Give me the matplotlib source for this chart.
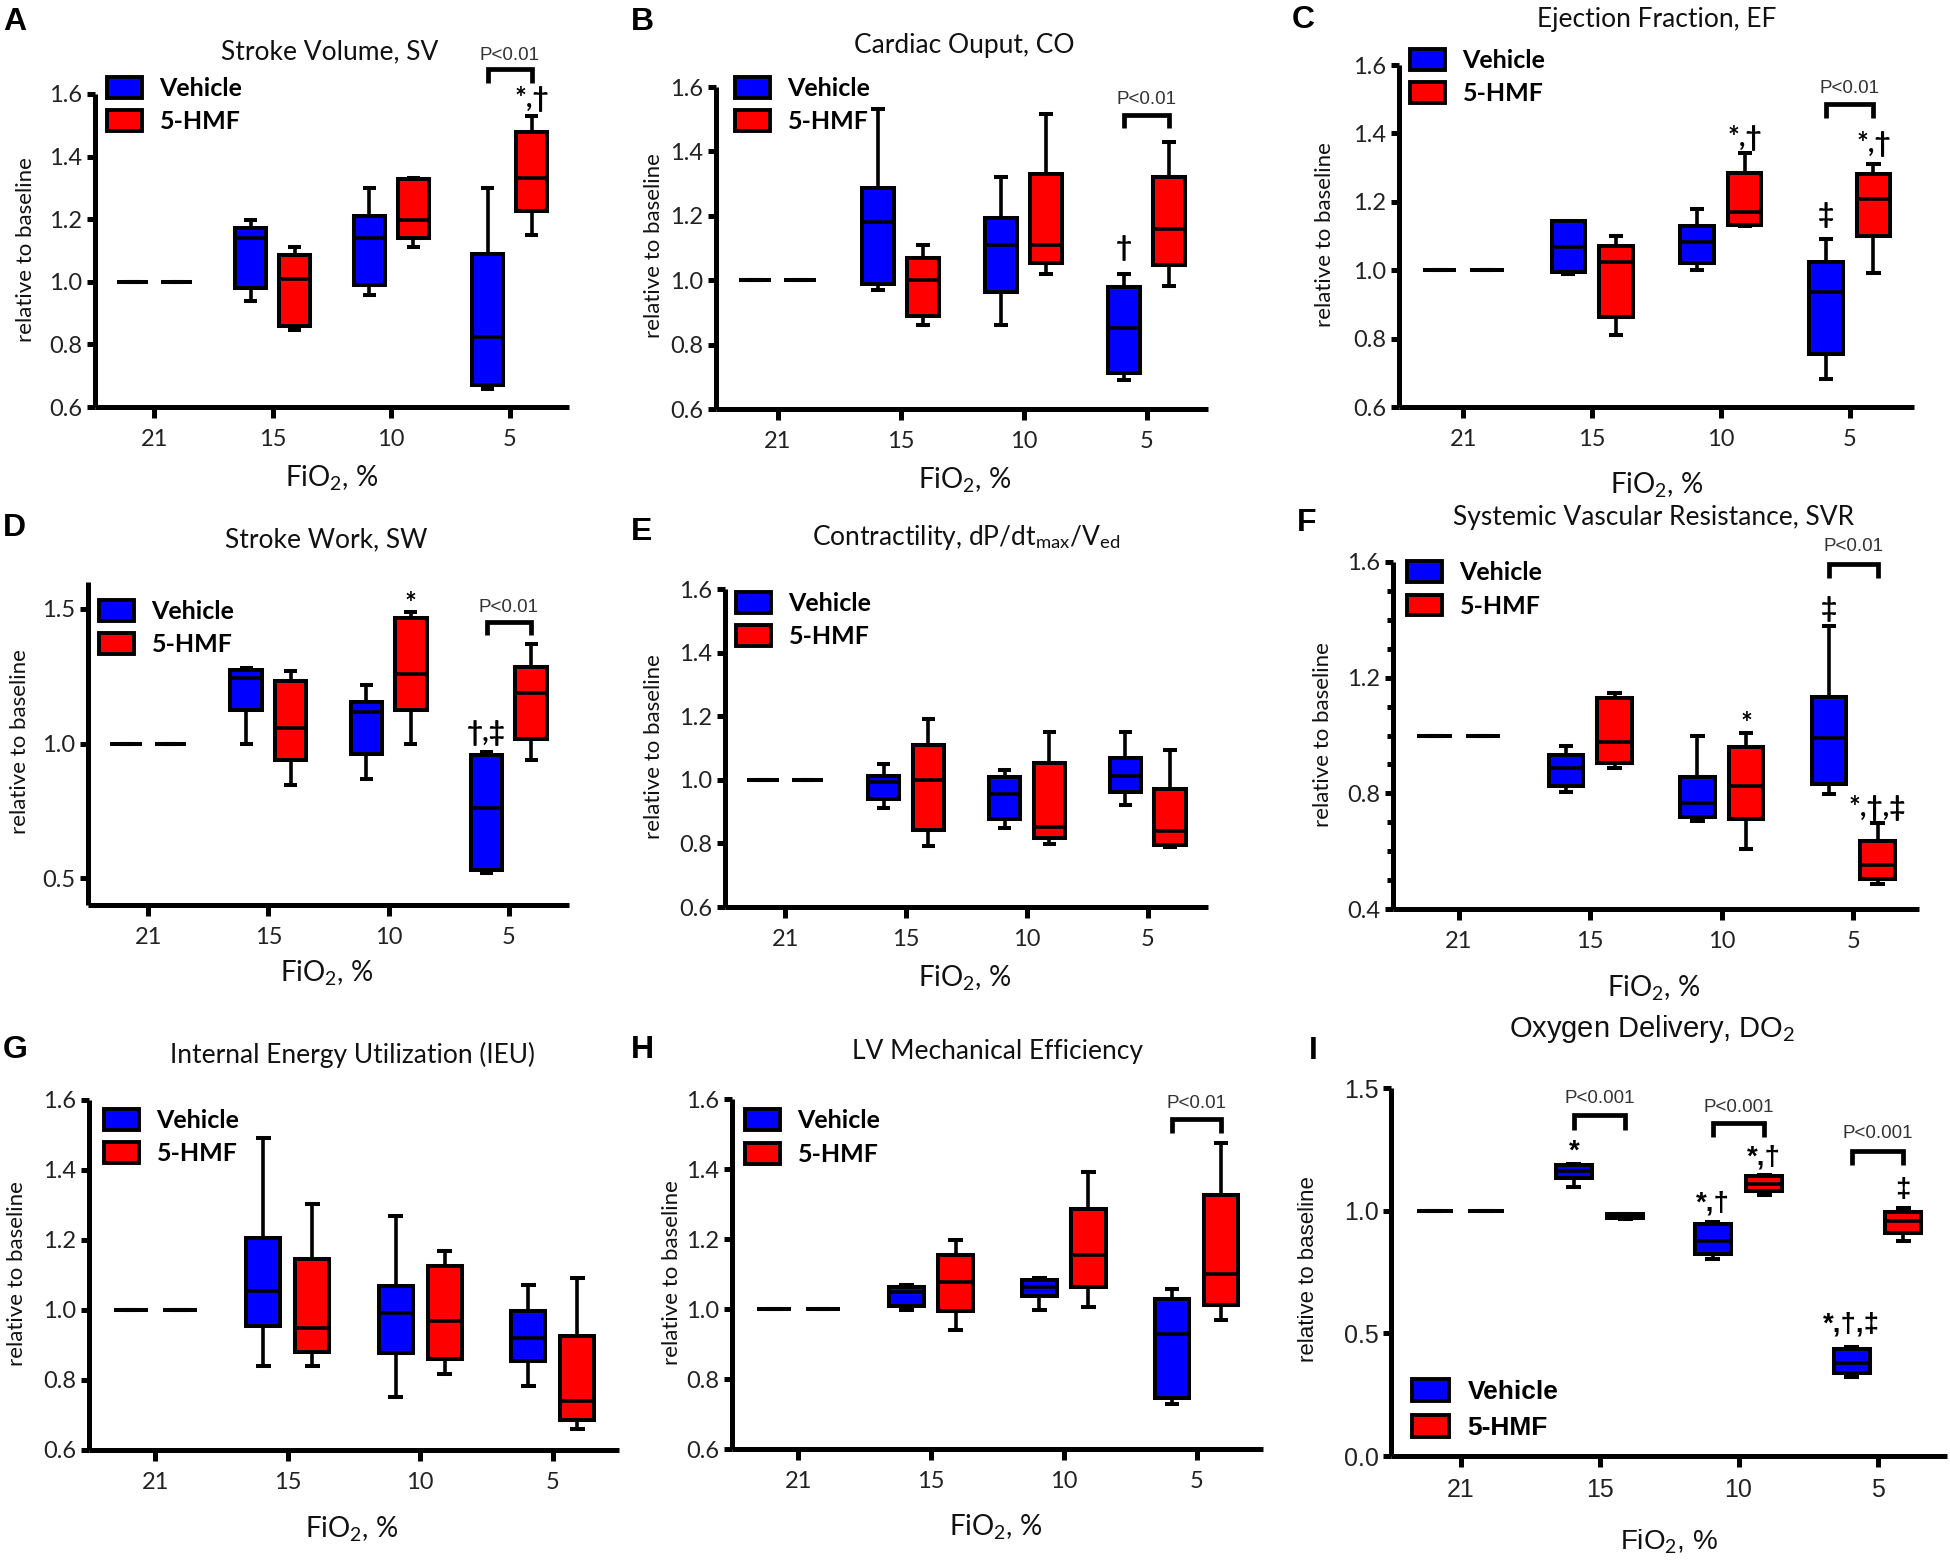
import matplotlib
matplotlib.use('Agg')
import matplotlib.pyplot as plt
from matplotlib import font_manager
from matplotlib.patches import Patch
from matplotlib.ticker import MultipleLocator

names = {f.name for f in font_manager.fontManager.ttflist}
CAL = 'Lato' if 'Lato' in names else 'DejaVu Sans'
ARIAL = 'Liberation Sans' if 'Liberation Sans' in names else 'DejaVu Sans'
HAS_NARROW = 'Liberation Sans Narrow' in names
NARROW = 'Liberation Sans Narrow' if HAS_NARROW else ARIAL

plt.rcParams['font.family'] = [CAL, 'DejaVu Sans']
plt.rcParams['mathtext.fontset'] = 'custom'
plt.rcParams['mathtext.rm'] = CAL
plt.rcParams['mathtext.it'] = CAL + ':italic'
plt.rcParams['mathtext.bf'] = CAL + ':bold'

# ---------------- data ----------------
FIO2 = ['21', '15', '10', '5']
BASELINE = [1.0, 1.0, 1.0, 1.0, 1.0]   # 21 % = baseline
# rows: FiO2 15, 10, 5 ; columns: [min, Q1, median, Q3, max]
SV_VEH = [[0.938, 0.980, 1.140, 1.172, 1.198], [0.959, 0.989, 1.140, 1.211, 1.300], [0.657, 0.671, 0.824, 1.090, 1.300]]
SV_HMF = [[0.847, 0.860, 1.009, 1.087, 1.110], [1.110, 1.140, 1.198, 1.328, 1.332], [1.148, 1.225, 1.332, 1.478, 1.531]]
CO_VEH = [[0.969, 0.989, 1.180, 1.285, 1.532], [0.862, 0.962, 1.110, 1.193, 1.319], [0.691, 0.712, 0.852, 0.979, 1.020]]
CO_HMF = [[0.862, 0.890, 1.001, 1.069, 1.110], [1.020, 1.053, 1.110, 1.331, 1.517], [0.981, 1.048, 1.159, 1.320, 1.428]]
EF_VEH = [[0.989, 0.996, 1.069, 1.144, 1.144], [1.001, 1.021, 1.081, 1.128, 1.178], [0.682, 0.756, 0.937, 1.023, 1.091]]
EF_HMF = [[0.811, 0.863, 1.023, 1.071, 1.100], [1.128, 1.133, 1.170, 1.285, 1.342], [0.991, 1.099, 1.209, 1.282, 1.311]]
SW_VEH = [[1.000, 1.125, 1.244, 1.273, 1.279], [0.868, 0.962, 1.117, 1.154, 1.219], [0.518, 0.530, 0.759, 0.956, 0.969]]
SW_HMF = [[0.847, 0.937, 1.059, 1.232, 1.269], [1.000, 1.123, 1.259, 1.466, 1.489], [0.937, 1.015, 1.188, 1.284, 1.370]]
CT_VEH = [[0.911, 0.940, 0.992, 1.013, 1.051], [0.848, 0.878, 0.955, 1.009, 1.032], [0.922, 0.961, 1.011, 1.069, 1.150]]
CT_HMF = [[0.791, 0.843, 1.000, 1.110, 1.191], [0.799, 0.817, 0.851, 1.053, 1.149], [0.789, 0.796, 0.838, 0.972, 1.093]]
SVR_VEH = [[0.804, 0.827, 0.889, 0.933, 0.965], [0.706, 0.718, 0.766, 0.856, 1.000], [0.798, 0.832, 0.990, 1.134, 1.378]]
SVR_HMF = [[0.889, 0.904, 0.979, 1.131, 1.148], [0.608, 0.711, 0.827, 0.959, 1.008], [0.487, 0.504, 0.551, 0.634, 0.697]]
IEU_VEH = [[0.840, 0.955, 1.054, 1.206, 1.491], [0.752, 0.876, 0.991, 1.069, 1.270], [0.782, 0.854, 0.921, 0.996, 1.072]]
IEU_HMF = [[0.840, 0.881, 0.949, 1.147, 1.302], [0.818, 0.861, 0.968, 1.125, 1.168], [0.661, 0.686, 0.741, 0.926, 1.092]]
ME_VEH = [[0.998, 1.010, 1.050, 1.064, 1.069], [0.998, 1.037, 1.062, 1.084, 1.089], [0.728, 0.746, 0.928, 1.030, 1.058]]
ME_HMF = [[0.939, 0.993, 1.077, 1.155, 1.198], [1.007, 1.064, 1.155, 1.285, 1.391], [0.968, 1.012, 1.099, 1.326, 1.473]]
DO2_VEH = [[1.095, 1.135, 1.160, 1.186, 1.190], [0.805, 0.824, 0.876, 0.946, 0.952], [0.322, 0.337, 0.381, 0.436, 0.444]]
DO2_HMF = [[0.966, 0.969, 0.978, 0.985, 0.988], [1.062, 1.079, 1.110, 1.142, 1.145], [0.876, 0.908, 0.956, 0.993, 1.010]]

LEGEND_LABELS = ['Vehicle', '5-HMF']
BLUE = '#0000ff'
RED = '#ff0000'

# ---------------- layout ----------------
W, H = 1950, 1563
fig = plt.figure(figsize=(W / 100, H / 100), dpi=100)

OFF = 0.185
BOXW = 0.26
CAPW = 0.11
LW = 2.9
SPINE = 3.6

PANELS = [
    dict(letter='A', letter_xy=(3, 7), box=(95, 569, 94, 407), ylim=(0.6, 1.6),
         yticks=[0.6, 0.8, 1.0, 1.2, 1.4, 1.6], title='Stroke Volume, SV', title_xy=(330, 52),
         xlabel_xy=(332, 478), ylabel_xy=(26, 250), leg=(107, 88, 122), veh=SV_VEH, hmf=SV_HMF,
         brackets=[(3, 1.681, 0.046, 'P<0.01', 1.722)], stars=[(3, 1, 1.585, '*,†')]),
    dict(letter='B', letter_xy=(631, 7), box=(716, 1208, 87, 409), ylim=(0.6, 1.6),
         yticks=[0.6, 0.8, 1.0, 1.2, 1.4, 1.6], title='Cardiac Ouput, CO', title_xy=(964, 45),
         xlabel_xy=(965, 480), ylabel_xy=(654, 246), leg=(735, 88, 122), veh=CO_VEH, hmf=CO_HMF,
         brackets=[(3, 1.514, 0.041, 'P<0.01', 1.561)], stars=[(3, -1, 1.100, '†')]),
    dict(letter='C', letter_xy=(1292, 5), box=(1399, 1914, 65, 407), ylim=(0.6, 1.6),
         yticks=[0.6, 0.8, 1.0, 1.2, 1.4, 1.6], title='Ejection Fraction, EF', title_xy=(1657, 20),
         xlabel_xy=(1657, 485), ylabel_xy=(1325, 235), leg=(1410, 59, 95), veh=EF_VEH, hmf=EF_HMF,
         brackets=[(3, 1.486, 0.042, 'P<0.01', 1.532)],
         stars=[(2, 1, 1.386, '*,†'), (3, -1, 1.162, '‡'), (3, 1, 1.369, '*,†')]),
    dict(letter='D', letter_xy=(3, 513), box=(88, 569, 582, 905), ylim=(0.4, 1.6),
         yticks=[0.5, 1.0, 1.5], title='Stroke Work, SW', title_xy=(326, 540),
         xlabel_xy=(327, 973), ylabel_xy=(20, 742), leg=(99, 611, 645), veh=SW_VEH, hmf=SW_HMF,
         brackets=[(3, 1.451, 0.048, 'P<0.01', 1.504)],
         stars=[(2, 1, 1.52, '*'), (3, -1, 1.04, '†,‡')]),
    dict(letter='E', letter_xy=(631, 517), box=(725, 1208, 589, 907), ylim=(0.6, 1.6),
         yticks=[0.6, 0.8, 1.0, 1.2, 1.4, 1.6],
         title=r'Contractility, dP/dt$_{\mathrm{max}}$/V$_{\mathrm{ed}}$', title_xy=(966, 538),
         xlabel_xy=(965, 978), ylabel_xy=(654, 747), leg=(736, 603, 637), veh=CT_VEH, hmf=CT_HMF,
         brackets=[], stars=[]),
    dict(letter='F', letter_xy=(1297, 508), box=(1393, 1919, 562, 909), ylim=(0.4, 1.6),
         yticks=[0.4, 0.8, 1.2, 1.6], minor=0.1, title='Systemic Vascular Resistance, SVR',
         title_xy=(1654, 517), xlabel_xy=(1654, 988), ylabel_xy=(1323, 735), leg=(1407, 571, 608),
         veh=SVR_VEH, hmf=SVR_HMF, brackets=[(3, 1.592, 0.049, 'P<0.01', 1.652)],
         stars=[(2, 1, 1.040, '*'), (3, -1, 1.439, '‡'), (3, 1, 0.749, '*,†,‡')]),
    dict(letter='G', letter_xy=(3, 1035), box=(89, 619, 1100, 1450), ylim=(0.6, 1.6),
         yticks=[0.6, 0.8, 1.0, 1.2, 1.4, 1.6], title='Internal Energy Utilization (IEU)',
         title_xy=(353, 1055), xlabel_xy=(352, 1529), ylabel_xy=(17, 1274), leg=(104, 1119, 1155),
         veh=IEU_VEH, hmf=IEU_HMF, brackets=[], stars=[]),
    dict(letter='H', letter_xy=(631, 1035), box=(732, 1263, 1099, 1449), ylim=(0.6, 1.6),
         yticks=[0.6, 0.8, 1.0, 1.2, 1.4, 1.6], title='LV Mechanical Efficiency', title_xy=(997, 1051),
         xlabel_xy=(996, 1527), ylabel_xy=(672, 1273), leg=(745, 1119, 1156), veh=ME_VEH, hmf=ME_HMF,
         brackets=[(3, 1.544, 0.042, 'P<0.01', 1.588)], stars=[]),
    dict(letter='I', letter_xy=(1309, 1036), box=(1391, 1947, 1088, 1456), ylim=(0.0, 1.5),
         yticks=[0.0, 0.5, 1.0, 1.5], title='Oxygen Delivery, DO$_2$', title_xy=(1652, 1029),
         xlabel_xy=(1669, 1542), ylabel_xy=(1308, 1269), leg=(1412, 1392, 1427), veh=DO2_VEH,
         hmf=DO2_HMF, arial=True,
         brackets=[(1, 1.391, 0.062, 'P<0.001', 1.457), (2, 1.359, 0.060, 'P<0.001', 1.420),
                   (3, 1.245, 0.059, 'P<0.001', 1.315)],
         stars=[(1, -1, 1.24, '*'), (2, -1, 1.03, '*,†'), (2, 1, 1.215, '*,†'),
                (3, -1, 0.534, '*,†,‡'), (3, 1, 1.083, '‡')]),
]


def fx(x):
    return x / W


def fy(y):
    return 1 - y / H


def stats_from(rows):
    out = []
    for r in [BASELINE] + rows:
        out.append(dict(whislo=r[0], q1=r[1], med=r[2], q3=r[3], whishi=r[4], fliers=[]))
    return out


for p in PANELS:
    xL, xR, yT, yB = p['box']
    ax = fig.add_axes([fx(xL), fy(yB), (xR - xL) / W, (yB - yT) / H])
    fam = [ARIAL, 'DejaVu Sans'] if p.get('arial') else [CAL, 'DejaVu Sans']

    for rows, color, sgn in ((p['veh'], BLUE, -1), (p['hmf'], RED, 1)):
        ax.bxp(stats_from(rows), positions=[i + sgn * OFF for i in range(len(FIO2))],
               widths=BOXW, capwidths=CAPW, patch_artist=True, showfliers=False,
               manage_ticks=False,
               boxprops=dict(facecolor=color, edgecolor='black', linewidth=LW),
               medianprops=dict(color='black', linewidth=LW - 0.3, solid_capstyle='butt'),
               whiskerprops=dict(color='black', linewidth=LW - 0.3, solid_capstyle='butt'),
               capprops=dict(color='black', linewidth=LW, solid_capstyle='butt'))

    ax.set_xlim(-0.5, 3.5)
    ax.set_ylim(*p['ylim'])
    ax.set_xticks(range(len(FIO2)))
    ax.set_xticklabels(FIO2)
    ax.set_yticks(p['yticks'])
    ax.set_yticklabels([f'{v:.1f}' for v in p['yticks']])
    if p.get('minor'):
        ax.yaxis.set_minor_locator(MultipleLocator(p['minor']))
        ax.tick_params(axis='y', which='minor', direction='out', length=4, width=SPINE)
    for s in ('top', 'right'):
        ax.spines[s].set_visible(False)
    for s in ('left', 'bottom'):
        ax.spines[s].set_linewidth(SPINE)
        ax.spines[s].set_capstyle('butt')
    tsize = 18 if p.get('arial') else 17
    ax.tick_params(axis='y', which='major', direction='out', length=6, width=SPINE,
                   labelsize=tsize, pad=3, labelcolor='#222222')
    ax.tick_params(axis='x', direction='out', length=8, width=SPINE,
                   labelsize=tsize, pad=8, labelcolor='#222222')
    for lbl in ax.get_xticklabels() + ax.get_yticklabels():
        lbl.set_fontfamily(fam)

    # brackets with p-values
    for (i, ytop, drop, txt, ytxt) in p['brackets']:
        x0, x1 = i - OFF, i + OFF
        ax.plot([x0, x0, x1, x1], [ytop - drop, ytop, ytop, ytop - drop], color='black',
                lw=3.4, solid_capstyle='butt', solid_joinstyle='miter', clip_on=False)
        ax.text(i, ytxt, txt, ha='center', va='center', color='#333333',
                fontsize=15 if HAS_NARROW else 13.5, family=[NARROW, 'DejaVu Sans'],
                clip_on=False)

    # significance symbols
    for (i, sgn, y, txt) in p['stars']:
        ax.text(i + sgn * OFF, y, txt, ha='center', va='center', fontsize=20, weight='bold',
                family=fam, color='black', clip_on=False)

    # legend
    lx, ly1, ly2 = p['leg']
    handles = [Patch(facecolor=BLUE, edgecolor='black', linewidth=2.8, label=LEGEND_LABELS[0]),
               Patch(facecolor=RED, edgecolor='black', linewidth=2.8, label=LEGEND_LABELS[1])]
    lsize = 19 if p.get('arial') else 18
    ax.legend(handles=handles, loc='center left', bbox_to_anchor=(fx(lx), fy((ly1 + ly2) / 2)),
              bbox_transform=fig.transFigure, frameon=False,
              prop=dict(family=fam, weight='bold', size=lsize),
              handlelength=1.4, handleheight=0.9, handletextpad=0.7, labelspacing=0.42,
              borderpad=0, borderaxespad=0)

    # titles and labels
    fig.text(fx(p['title_xy'][0]), fy(p['title_xy'][1]), p['title'], ha='center', va='center',
             fontsize=21 if p.get('arial') else 19, family=fam, color='#111111')
    fig.text(fx(p['xlabel_xy'][0]), fy(p['xlabel_xy'][1]), 'FiO$_2$, %', ha='center',
             va='center', fontsize=20, family=fam, color='#111111')
    fig.text(fx(p['ylabel_xy'][0]), fy(p['ylabel_xy'][1]), 'relative to baseline', ha='center',
             va='center', rotation=90, fontsize=16, family=fam, color='#111111')
    fig.text(fx(p['letter_xy'][0]), fy(p['letter_xy'][1]), p['letter'], ha='left', va='top',
             fontsize=23, weight='bold', family=[ARIAL, 'DejaVu Sans'])

fig.savefig('out.png', dpi=100)
